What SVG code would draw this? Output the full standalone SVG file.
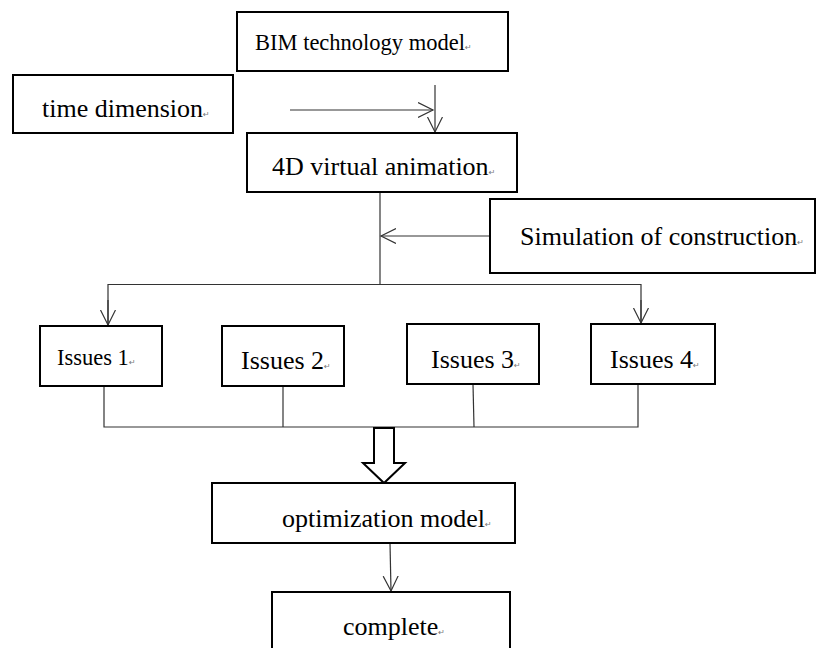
<svg xmlns="http://www.w3.org/2000/svg" width="818" height="648" viewBox="0 0 818 648">
<style>
.box{fill:#fff;stroke:#000;stroke-width:2}
.t{font-family:'Liberation Serif','Times New Roman',Tinos,'DejaVu Serif',serif;font-size:26px;fill:#000}
.s{font-size:22.5px}
.pm{font-family:'DejaVu Sans',sans-serif;font-size:8px;fill:#777}
.c{fill:none;stroke:#333;stroke-width:1.2}
</style>
<defs>
<marker id="ah" markerUnits="userSpaceOnUse" markerWidth="18" markerHeight="18" refX="15" refY="8" orient="auto">
<path d="M0,0.5 L15,8 L0,15.5" fill="none" stroke="#333" stroke-width="1.2"/>
</marker>
</defs>
<rect width="818" height="648" fill="#fff"/>
<g id="connectors">
<line class="c" x1="290" y1="110" x2="433" y2="110" marker-end="url(#ah)"/>
<line class="c" x1="435" y1="85" x2="435" y2="132" marker-end="url(#ah)"/>
<line class="c" x1="380" y1="192" x2="380" y2="284"/>
<line class="c" x1="490" y1="236" x2="381" y2="236" marker-end="url(#ah)"/>
<polyline class="c" points="108,325 108,284.5 641,284.5 641,323"/>
<line class="c" x1="108" y1="300" x2="108" y2="325" marker-end="url(#ah)"/>
<line class="c" x1="641" y1="300" x2="641" y2="323" marker-end="url(#ah)"/>
<polyline class="c" points="104,386 104,427 638,427 638,384"/>
<line class="c" x1="283" y1="386" x2="283" y2="427"/>
<line class="c" x1="473" y1="384" x2="474" y2="427"/>
<polygon points="374,428 394,428 394,463 405,463 384,483 363,463 374,463" fill="#fff" stroke="#000" stroke-width="2"/>
<line class="c" x1="390" y1="543" x2="391" y2="591" marker-end="url(#ah)"/>
</g>
<g id="bim"><rect class="box" x="237" y="12" width="271" height="59"/><text class="t s" x="255" y="50">BIM technology model<tspan class="pm">↵</tspan></text></g>
<g id="time"><rect class="box" x="13" y="75" width="220" height="58"/><text class="t" x="42" y="117">time dimension<tspan class="pm">↵</tspan></text></g>
<g id="anim"><rect class="box" x="247" y="133" width="270" height="59"/><text class="t" x="272" y="175">4D virtual animation<tspan class="pm">↵</tspan></text></g>
<g id="sim"><rect class="box" x="490" y="199" width="325" height="74"/><text class="t" x="520" y="245">Simulation of construction<tspan class="pm">↵</tspan></text></g>
<g id="issue1"><rect class="box" x="40" y="326" width="122" height="60"/><text class="t s" x="57" y="365">Issues 1<tspan class="pm">↵</tspan></text></g>
<g id="issue2"><rect class="box" x="222" y="326" width="122" height="60"/><text class="t" x="241" y="369">Issues 2<tspan class="pm">↵</tspan></text></g>
<g id="issue3"><rect class="box" x="407" y="324" width="132" height="60"/><text class="t" x="431" y="368">Issues 3<tspan class="pm">↵</tspan></text></g>
<g id="issue4"><rect class="box" x="591" y="324" width="124" height="60"/><text class="t" x="610" y="368">Issues 4<tspan class="pm">↵</tspan></text></g>
<g id="opt"><rect class="box" x="212" y="483" width="303" height="60"/><text class="t" x="282" y="527">optimization model<tspan class="pm">↵</tspan></text></g>
<g id="complete"><rect class="box" x="272" y="592" width="238" height="70"/><text class="t" x="343" y="635">complete<tspan class="pm">↵</tspan></text></g>
</svg>
